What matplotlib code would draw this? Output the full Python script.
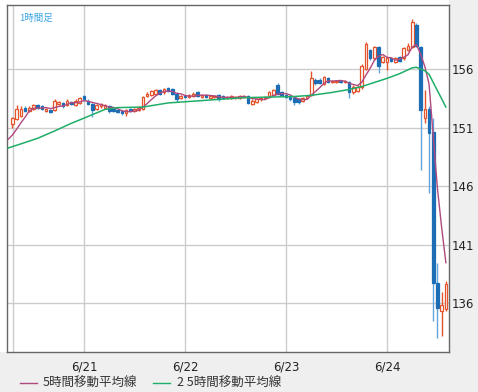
import pandas as pd
import matplotlib
matplotlib.use("Agg")
import matplotlib.pyplot as plt
from matplotlib.lines import Line2D
from matplotlib.patches import Rectangle

# hourly candles, hour index counted from 6/20 00:00
hours = list(range(7, 111))

opens = [151.3, 151.7, 152.0, 152.7, 152.4, 152.6, 152.9, 152.8, 152.4, 152.5,  # 7-16
         152.5, 153.0, 153.1, 152.9, 153.2, 152.9, 153.1, 153.7, 153.3, 153.0,  # 17-26
         152.6, 152.8, 152.7, 152.8, 152.6, 152.5, 152.4, 152.2, 152.6, 152.4,  # 27-36
         152.5, 152.6, 153.7, 153.8, 153.9, 154.2, 154.0, 154.4, 154.3, 153.9,  # 37-46
         153.5, 153.7, 153.6, 153.7, 154.0, 153.6, 153.8, 153.5, 153.6, 153.8,  # 47-56
         153.7, 153.5, 153.5, 153.5, 153.5, 153.6, 153.7, 153.0, 153.2, 153.4,  # 57-66
         153.5, 153.6, 153.8, 154.6, 154.0, 153.8, 153.6, 153.5, 153.4, 153.3,  # 67-76
         153.5, 153.8, 155.1, 155.1, 154.7, 155.2, 154.9, 154.9, 155.0, 154.9,  # 77-86
         154.9, 154.0, 154.1, 154.5, 156.0, 157.6, 156.9, 157.9, 156.6, 156.6,  # 87-96
         156.9, 156.6, 157.0, 156.9, 157.6, 157.9, 159.8, 157.9, 151.8, 152.6,  # 97-106
         150.6, 137.7, 135.3, 135.5]                                            # 107-110
closes = [151.8, 152.6, 152.6, 152.4, 152.7, 152.9, 152.7, 152.6, 152.6, 152.3,
          153.3, 153.2, 152.8, 153.3, 153.0, 153.3, 153.5, 153.4, 153.0, 152.5,
          152.9, 153.0, 152.9, 152.4, 152.4, 152.3, 152.2, 152.5, 152.4, 152.6,
          152.7, 153.6, 153.9, 154.1, 154.2, 153.9, 154.3, 154.1, 153.9, 153.4,
          153.7, 153.6, 153.8, 153.9, 153.7, 153.8, 153.6, 153.7, 153.7, 153.4,
          153.5, 153.6, 153.7, 153.6, 153.7, 153.7, 153.1, 153.3, 153.4, 153.5,
          153.6, 154.0, 154.2, 153.9, 153.8, 153.6, 153.4, 153.2, 153.2, 153.5,
          153.7, 155.2, 154.8, 154.8, 155.3, 154.9, 155.0, 155.0, 154.9, 155.0,
          154.0, 154.5, 154.5, 156.3, 158.1, 156.9, 157.9, 156.3, 157.0, 156.9,
          156.7, 156.9, 156.7, 157.8, 158.0, 160.0, 158.0, 152.5, 152.6, 150.5,
          137.7, 135.6, 135.8, 137.6]
highs = [151.9, 152.9, 152.8, 152.8, 152.8, 153.0, 153.0, 152.9, 152.7, 152.6,
         153.4, 153.3, 153.2, 153.4, 153.3, 153.4, 153.6, 153.8, 153.4, 153.1,
         153.0, 153.1, 153.0, 152.9, 152.7, 152.6, 152.5, 152.6, 152.7, 152.7,
         152.8, 153.7, 154.0, 154.2, 154.3, 154.3, 154.4, 154.5, 154.4, 154.0,
         153.8, 153.8, 153.9, 154.0, 154.1, 153.9, 153.9, 153.8, 153.8, 153.9,
         153.8, 153.7, 153.8, 153.7, 153.8, 153.8, 153.8, 153.4, 153.5, 153.6,
         153.7, 154.1, 154.3, 154.8, 154.1, 153.9, 153.7, 153.6, 153.5, 153.6,
         153.8, 155.8, 155.2, 155.2, 155.4, 155.3, 155.1, 155.1, 155.1, 155.1,
         155.0, 154.6, 154.6, 156.4, 158.3, 157.7, 158.0, 158.0, 157.1, 157.0,
         157.0, 157.0, 157.1, 157.9, 158.2, 160.3, 159.9, 158.0, 154.2, 152.8,
         151.8, 139.4, 136.9, 137.9]
lows = [151.0, 151.6, 151.9, 152.3, 152.3, 152.5, 152.6, 152.5, 152.3, 152.2,
        152.4, 152.9, 152.7, 152.8, 152.9, 152.8, 153.0, 153.3, 152.9, 151.9,
        152.5, 152.7, 152.6, 152.2, 152.3, 152.2, 152.1, 152.0, 152.3, 152.3,
        152.4, 152.5, 153.6, 153.7, 153.8, 153.8, 153.9, 154.0, 153.8, 153.2,
        153.4, 153.5, 153.5, 153.6, 153.6, 153.5, 153.5, 153.4, 153.5, 153.3,
        153.4, 153.4, 153.4, 153.4, 153.4, 153.5, 153.0, 152.9, 153.1, 153.3,
        153.4, 153.5, 153.7, 153.8, 153.7, 153.5, 153.3, 152.9, 153.0, 153.2,
        153.4, 153.7, 154.6, 154.7, 154.6, 154.8, 154.8, 154.8, 154.8, 154.8,
        153.5, 153.9, 154.0, 154.3, 155.9, 156.8, 156.8, 155.7, 156.5, 155.9,
        156.6, 156.5, 156.6, 156.8, 157.5, 157.8, 157.9, 147.4, 151.4, 145.4,
        134.5, 133.0, 133.2, 135.3]

# last closes before the chart window (needed for the 5h average at the left edge)
prev_hours = [2, 3, 4, 5, 6]
prev_closes = [150.0, 150.1, 149.9, 150.0, 150.0]

# 25h moving average
ma25_hours = [6, 9, 13, 17, 21, 24, 27, 29, 32, 38, 44, 50, 56, 62, 68, 74, 78,
              83, 87, 90, 93, 96, 99, 102, 103, 104, 105, 106, 107, 108, 109, 110]
ma25_vals = [149.25, 149.6, 150.08, 150.7, 151.36, 151.8, 152.25, 152.55, 152.7,
             152.75, 153.1, 153.25, 153.4, 153.55, 153.6, 153.65, 153.75, 154.0,
             154.25, 154.5, 154.85, 155.2, 155.6, 156.1, 156.15, 156.0, 155.85,
             155.55, 154.85, 154.15, 153.45, 152.75]

day_hours = [24, 48, 72, 96]
day_labels = ["6/21", "6/22", "6/23", "6/24"]
price_ticks = [136, 141, 146, 151, 156]

assert len(opens) == len(closes) == len(highs) == len(lows) == len(hours)

up_color = "#e5532b"
down_color = "#1c6db4"
down_wick = "#62a5dc"
ma5_color = "#b0497d"
ma25_color = "#1fae6a"
grid_color = "#cccccc"
jp_font = ["Noto Sans CJK JP", "DejaVu Sans"]

plt.rcParams["font.family"] = ["DejaVu Sans", "Noto Sans CJK JP"]

fig = plt.figure(figsize=(4.78, 3.92), dpi=100, facecolor="#efefef")
# white behind the chart and its top/left margin, grey right and bottom
fig.patches.append(Rectangle((0, 1 - 352 / 392), 449 / 478, 352 / 392,
                             transform=fig.transFigure, facecolor="white",
                             edgecolor="none", zorder=-5))
ax = fig.add_axes([0.0146, 0.102, 0.9247, 0.8852])
ax.set_facecolor("white")

# grid
for p in price_ticks:
    ax.axhline(p, color=grid_color, lw=1.0, zorder=0)
for d in day_hours + [7.15]:
    ax.axvline(d, color=grid_color, lw=1.0, zorder=0)

# candles
for h, o, c, hi, lo in zip(hours, opens, closes, highs, lows):
    up = c >= o
    ax.vlines(h, lo, hi, color=up_color if up else down_wick, lw=1.0, zorder=2)
    body = max(abs(c - o), 0.05)
    if up:
        ax.bar(h, body, bottom=min(o, c), width=0.62, facecolor="white",
               edgecolor=up_color, lw=0.9, zorder=3)
    else:
        ax.bar(h, body, bottom=min(o, c), width=0.62, facecolor=down_color,
               edgecolor=down_color, lw=0.9, zorder=3)

# moving averages
all_closes = pd.Series(prev_closes + closes, index=prev_hours + hours)
ma5 = all_closes.rolling(5).mean().dropna()
ax.plot(ma5.index, ma5.values, color=ma5_color, lw=1.0, zorder=4)
ax.plot(ma25_hours, ma25_vals, color=ma25_color, lw=1.1, zorder=4)

ax.set_xlim(5.7, 110.74)
ax.set_ylim(131.81, 161.47)

ax.yaxis.tick_right()
ax.set_yticks(price_ticks)
ax.set_yticklabels([str(p) for p in price_ticks])
ax.set_xticks(day_hours)
ax.set_xticklabels(day_labels)
ax.tick_params(axis="y", length=0, pad=2, labelsize=8.5, labelcolor="#222222")
ax.tick_params(axis="x", length=0, pad=6, labelsize=8.5, labelcolor="#222222")
for s in ax.spines.values():
    s.set_color("#666666")
    s.set_linewidth(1.0)

ax.text(0.027, 0.975, "1時間足", transform=ax.transAxes, ha="left", va="top",
        fontsize=6.8, color="#3aa3e3", family=jp_font)

# legend under the chart
leg_y = 1 - 383 / 392
fig.add_artist(Line2D([20 / 478, 37 / 478], [leg_y, leg_y], color=ma5_color, lw=1.0))
fig.text(43 / 478, leg_y, "5時間移動平均線", ha="left", va="center",
         fontsize=9, color="#333333", family=jp_font)
fig.add_artist(Line2D([153 / 478, 170 / 478], [leg_y, leg_y], color=ma25_color, lw=1.0))
fig.text(177 / 478, leg_y, "2 5時間移動平均線", ha="left", va="center",
         fontsize=9, color="#333333", family=jp_font)

fig.savefig("out.png", dpi=100, facecolor=fig.get_facecolor())
